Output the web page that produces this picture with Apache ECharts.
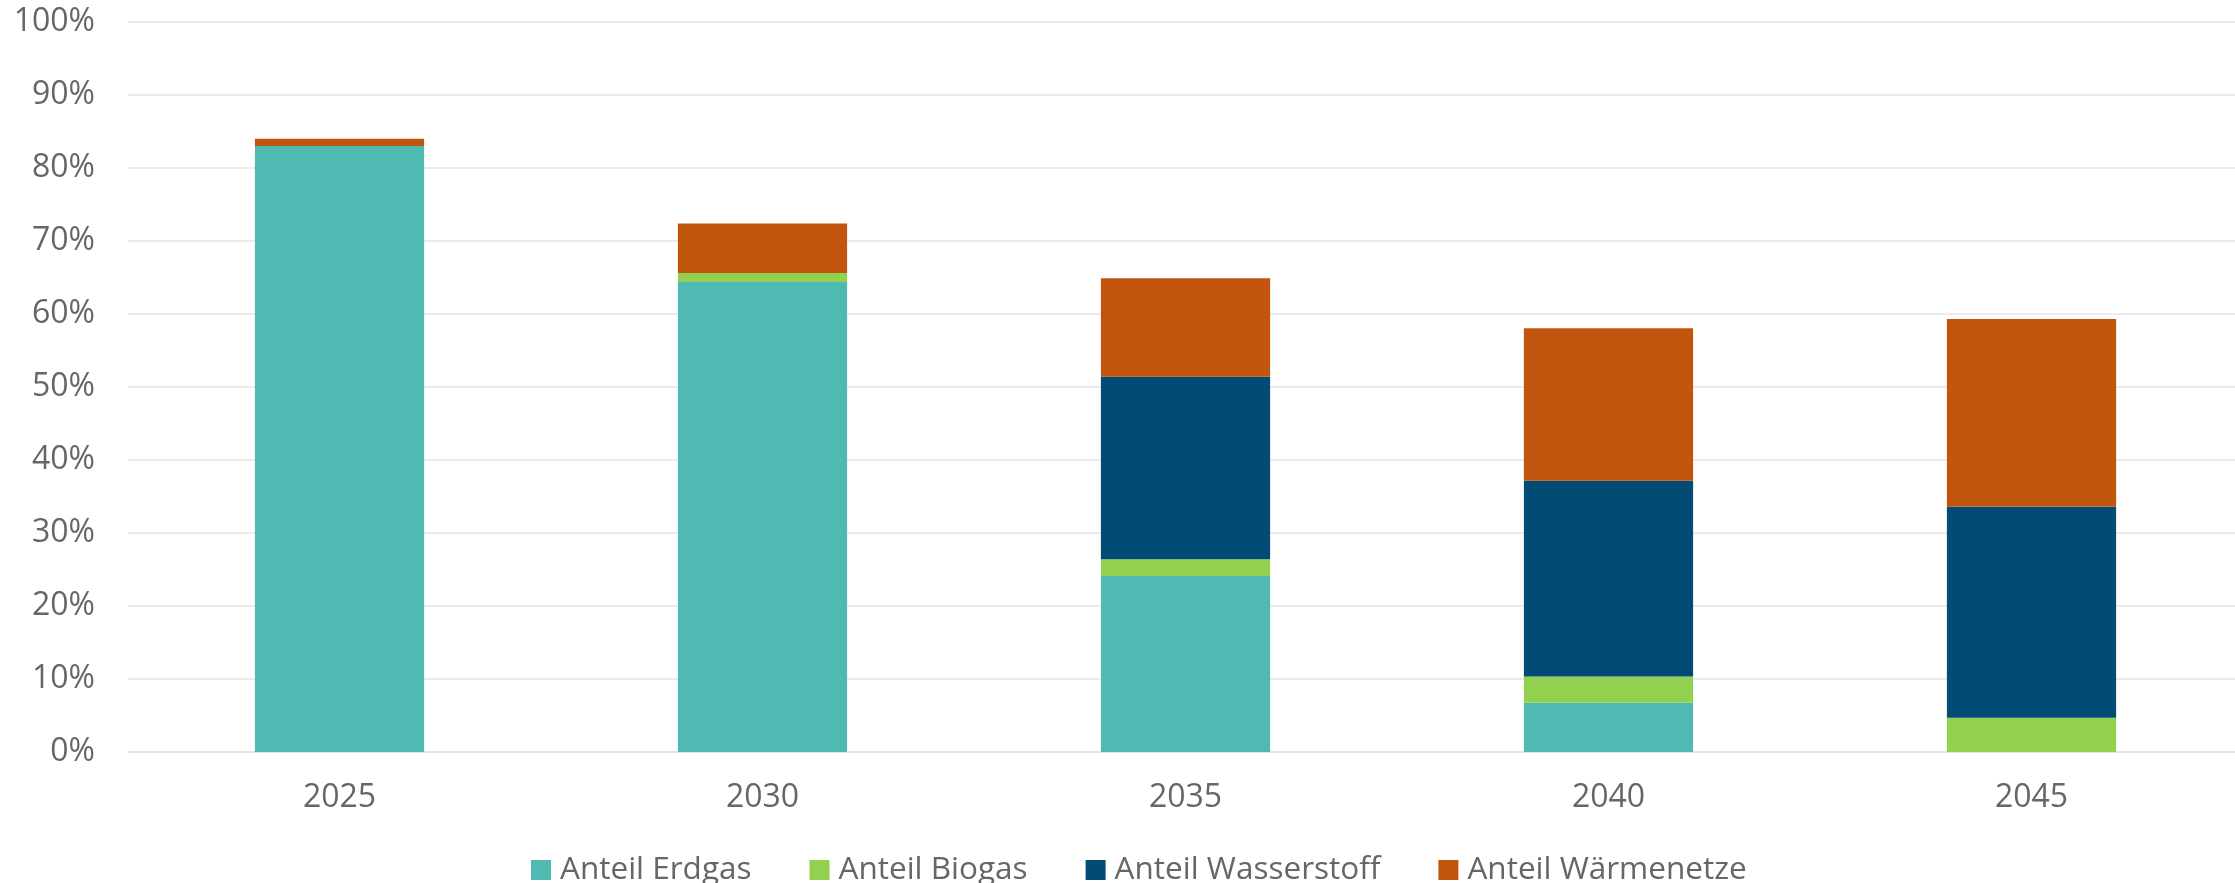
<!DOCTYPE html>
<html>
<head>
<meta charset="utf-8">
<script src="https://cdn.jsdelivr.net/npm/echarts@6/dist/echarts.min.js"></script>
<style>
html,body{margin:0;padding:0;background:#fff;}
#chart{width:2235px;height:883px;}
</style>
</head>
<body>
<div id="chart"></div>
<script>
const categories = ['2025', '2030', '2035', '2040', '2045'];
const erdgas = [83.0, 64.4, 24.1, 6.75, 0];
const biogas = [0, 1.2, 2.3, 3.6, 4.7];
const wasserstoff = [0, 0, 25.0, 26.8, 28.9];
const waermenetze = [1.0, 6.8, 13.5, 20.9, 25.7];
const seriesNames = ['Anteil Erdgas', 'Anteil Biogas', 'Anteil Wasserstoff', 'Anteil Wärmenetze'];
const colors = ['#4EBAB1', '#92D050', '#024B74', '#C1550D'];

const chart = echarts.init(document.getElementById('chart'));
const font = '"Open Sans", "Noto Sans", sans-serif';
const values = [erdgas, biogas, wasserstoff, waermenetze];
chart.setOption({
  animation: false,
  color: colors,
  textStyle: { fontFamily: font },
  grid: { left: 128, width: 2115, top: 22, bottom: 131, containLabel: false, outerBoundsMode: 'none' },
  legend: {
    left: 531,
    top: 854,
    padding: 0,
    itemWidth: 20,
    itemHeight: 20,
    itemGap: 58,
    icon: 'rect',
    data: seriesNames,
    textStyle: { fontSize: 31.5, color: '#666666', fontFamily: font, padding: [0, 0, 0, 4] }
  },
  xAxis: {
    type: 'category',
    data: categories,
    axisTick: { show: false },
    axisLine: { show: true, lineStyle: { color: '#E4E4E4', width: 1.5 } },
    axisLabel: { fontSize: 32, color: '#666666', margin: 30, fontFamily: font }
  },
  yAxis: {
    type: 'value',
    min: 0,
    max: 100,
    interval: 10,
    axisLine: { show: false },
    axisTick: { show: false },
    splitLine: { lineStyle: { color: '#E4E4E4', width: 1.5 } },
    axisLabel: { formatter: '{value}%', fontSize: 32, color: '#666666', margin: 33, fontFamily: font }
  },
  series: seriesNames.map((name, i) => ({
    name: name,
    type: 'bar',
    stack: 'total',
    barWidth: '40%',
    data: values[i]
  }))
});
</script>
</body>
</html>
